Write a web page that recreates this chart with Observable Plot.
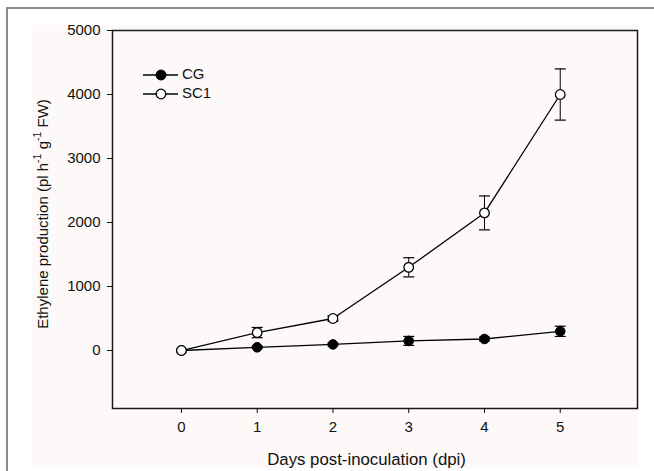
<!DOCTYPE html>
<html><head><meta charset="utf-8">
<script src="https://cdn.jsdelivr.net/npm/d3@7"></script>
<script src="https://cdn.jsdelivr.net/npm/@observablehq/plot@0.6"></script>
<style>
html,body{margin:0;padding:0;background:#fff;}
#wrap{position:relative;width:654px;height:471px;overflow:hidden;font-family:"Liberation Sans",Arial,sans-serif;}
#border-top{position:absolute;left:6px;top:7px;width:648px;height:2px;background:#8c8c8c;}
#border-left{position:absolute;left:6px;top:7px;width:2px;height:464px;background:#8c8c8c;}
#panel{position:absolute;left:32px;top:25px;width:607px;height:443px;background:#fcf9f8;}
#chart{position:absolute;left:0;top:0;}
</style></head><body>
<div id="wrap"><div id="border-top"></div><div id="border-left"></div><div id="panel"></div><div id="chart"></div></div>
<script>
const days = [0, 1, 2, 3, 4, 5];
const yTicks = [0, 1000, 2000, 3000, 4000, 5000];
const seriesNames = ["CG", "SC1"];
const cgMean = [0, 50, 95, 150, 180, 300];
const cgErr = [0, 15, 20, 70, 30, 80];
const sc1Mean = [0, 280, 500, 1300, 2150, 4000];
const sc1Err = [0, 80, 40, 150, 265, 400];
const xTitle = "Days post-inoculation (dpi)";

const cg = days.map((d, i) => ({day: d, mean: cgMean[i], err: cgErr[i], series: "CG"}));
const sc1 = days.map((d, i) => ({day: d, mean: sc1Mean[i], err: sc1Err[i], series: "SC1"}));
const all = cg.concat(sc1).filter(d => d.err > 0);
const caps = all.flatMap(d => [{day: d.day, y: d.mean - d.err}, {day: d.day, y: d.mean + d.err}]);
const capSymbol = {draw(ctx, size) { const r = Math.sqrt(size / Math.PI); ctx.moveTo(-r, 0); ctx.lineTo(r, 0); }};

const plot = Plot.plot({
  width: 654, height: 471,
  marginLeft: 112, marginRight: 17, marginTop: 30, marginBottom: 63,
  style: {background: "transparent", fontFamily: "'Liberation Sans', Arial, sans-serif", fontSize: "15px", color: "#111"},
  x: {domain: [-0.91, 6.02]},
  y: {domain: [-906, 5000]},
  marks: [
    Plot.frame({stroke: "#1a1a1a", strokeWidth: 1.5}),
    Plot.axisX({ticks: days, tickSize: 5, tickPadding: 8, label: null, tickFormat: d => String(d)}),
    Plot.axisY({ticks: yTicks, tickSize: 5, tickPadding: 7, label: null, tickFormat: d => String(d)}),
    Plot.ruleX(all, {x: "day", y1: d => d.mean - d.err, y2: d => d.mean + d.err, stroke: "#000", strokeWidth: 1}),
    Plot.dot(caps, {x: "day", y: "y", symbol: capSymbol, r: 5.5, stroke: "#000", strokeWidth: 1.2, fill: "none"}),
    Plot.line(cg, {x: "day", y: "mean", stroke: "#000", strokeWidth: 1.3}),
    Plot.line(sc1, {x: "day", y: "mean", stroke: "#000", strokeWidth: 1.3}),
    Plot.dot(cg, {x: "day", y: "mean", r: 4.8, fill: "#000", stroke: "#000", strokeWidth: 1}),
    Plot.dot(sc1, {x: "day", y: "mean", r: 4.8, fill: "#fff", stroke: "#000", strokeWidth: 1.3})
  ]
});
document.getElementById("chart").appendChild(plot);

const svg = d3.select(plot);
const xs = plot.scale("x");
// x title
svg.append("text").attr("x", xs.apply(2.45)).attr("y", 461).attr("text-anchor", "middle")
  .attr("dominant-baseline", "middle").attr("font-size", 16.8).attr("fill", "#111").text(xTitle);
// y title with superscripts
const yt = svg.append("text").attr("transform", "translate(44,214) rotate(-90)")
  .attr("text-anchor", "middle").attr("dominant-baseline", "middle").attr("font-size", 15).attr("fill", "#111");
yt.append("tspan").text("Ethylene production (pl h");
yt.append("tspan").attr("font-size", 10.5).attr("dy", "-0.6em").text("-1");
yt.append("tspan").attr("dy", "0.42em").text(" g");
yt.append("tspan").attr("font-size", 10.5).attr("dy", "-0.6em").text("-1");
yt.append("tspan").attr("dy", "0.42em").text(" FW)");
// legend
const leg = svg.append("g");
seriesNames.forEach((name, i) => {
  const y = 75 + i * 19;
  leg.append("line").attr("x1", 143).attr("x2", 178).attr("y1", y).attr("y2", y).attr("stroke", "#000").attr("stroke-width", 1.3);
  leg.append("circle").attr("cx", 161).attr("cy", y).attr("r", 4.8)
    .attr("fill", i === 0 ? "#000" : "#fff").attr("stroke", "#000").attr("stroke-width", 1.3);
  leg.append("text").attr("x", 182).attr("y", y).attr("text-anchor", "start").attr("dominant-baseline", "middle")
    .attr("font-size", 15).attr("fill", "#111").text(name);
});
</script>
</body></html>
